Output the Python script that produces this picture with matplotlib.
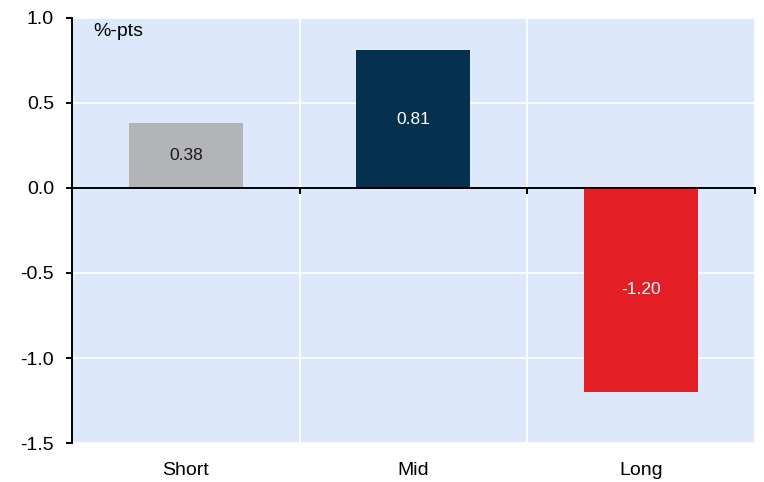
import matplotlib
matplotlib.use("Agg")
import matplotlib.pyplot as plt
import numpy as np

plt.rcParams['font.family'] = ['Liberation Sans', 'DejaVu Sans']

categories = ["Short", "Mid", "Long"]
values = [0.38, 0.81, -1.20]
colors = ["#b3b4b8", "#05304e", "#e31e24"]
label_colors = ["#1a1a1a", "white", "white"]
yticks = [1.0, 0.5, 0.0, -0.5, -1.0, -1.5]

fig = plt.figure(figsize=(7.64, 4.82), dpi=100)
ax = fig.add_axes([0.0942, 0.0809, 0.8938, 0.8818])
ax.set_facecolor("#dde9fb")

x = np.arange(len(categories))
bars = ax.bar(x, values, width=0.5, color=colors, zorder=3)
for xi, v, tc in zip(x, values, label_colors):
    ax.text(xi, v / 2, f"{v:.2f}", ha="center", va="center",
            fontsize=12.5, color=tc, zorder=4)

ax.set_xlim(-0.5, len(categories) - 0.5)
ax.set_ylim(-1.5, 1.0)
ax.set_yticks(yticks)
ax.set_yticklabels([f"{t:.1f}" for t in yticks], fontsize=14)

# category boundaries carry the ticks and vertical grid
bounds = np.arange(-0.5, len(categories), 1.0)
ax.set_xticks(bounds)
ax.set_xticklabels([])
ax.grid(True, color="white", linewidth=1.2, zorder=1)
ax.set_axisbelow(True)

for s in ("top", "right"):
    ax.spines[s].set_visible(False)
ax.spines["bottom"].set_position(("data", 0))
ax.spines["bottom"].set_linewidth(1.4)
ax.spines["bottom"].set_zorder(5)
ax.spines["left"].set_linewidth(1.4)
ax.tick_params(axis="x", direction="out", length=4.5, width=1.4)
ax.tick_params(axis="y", direction="out", length=4.5, width=1.4, pad=8.5)

sec = ax.secondary_xaxis(0.0)
sec.set_xticks(x)
sec.set_xticklabels(categories, fontsize=14)
sec.tick_params(length=0, pad=14)
sec.spines["bottom"].set_visible(False)

ax.text(0.031, 0.958, "%-pts", transform=ax.transAxes, ha="left",
        va="baseline", fontsize=14)

fig.savefig("out.png", dpi=100)
